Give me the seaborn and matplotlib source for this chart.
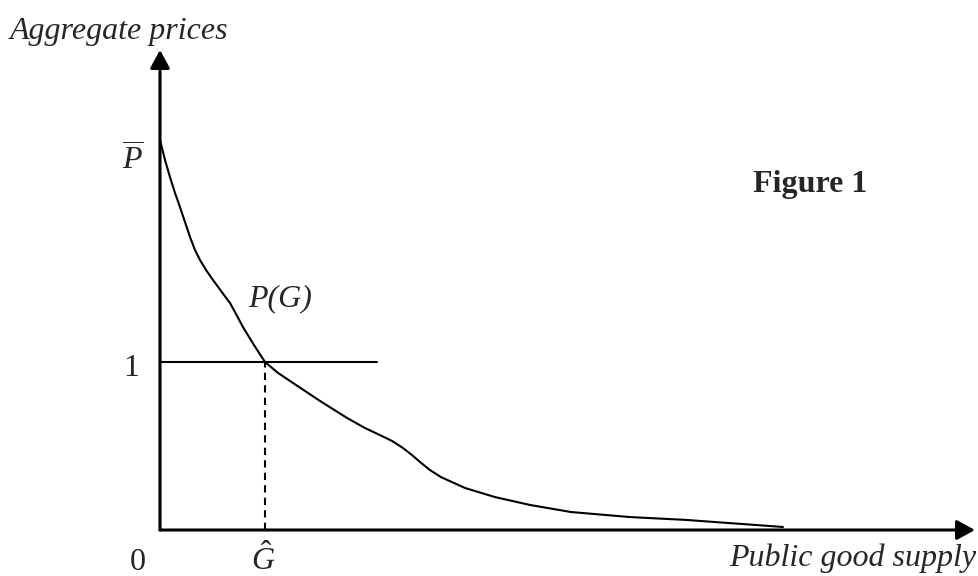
import numpy as np
import pandas as pd
import seaborn as sns
import matplotlib.pyplot as plt

# curve P(G) (G-hat = 1, price level 1 = 1)
G = [0, 0.048, 0.095, 0.143, 0.19, 0.238, 0.286, 0.333, 0.381, 0.438, 0.505,
     0.581, 0.667, 0.724, 0.79, 0.895, 1.0, 1.124, 1.267, 1.524, 1.781, 1.952,
     2.095, 2.21, 2.314, 2.4, 2.476, 2.571, 2.676, 2.905, 3.19, 3.524, 3.914,
     4.476, 5.01, 5.933]
P = [2.321, 2.202, 2.101, 2.006, 1.923, 1.833, 1.744, 1.667, 1.607, 1.548, 1.488,
     1.423, 1.351, 1.286, 1.208, 1.101, 1.0, 0.935, 0.875, 0.768, 0.667, 0.607,
     0.565, 0.53, 0.488, 0.446, 0.405, 0.357, 0.315, 0.25, 0.196, 0.149, 0.107,
     0.077, 0.06, 0.018]
g_hat = 1.0
p_one = 1.0
line_end = 2.067

df = pd.DataFrame({'G': G, 'P': P})

sns.set_style('white')
plt.rcParams['font.family'] = ['Liberation Serif', 'DejaVu Serif']
plt.rcParams['mathtext.fontset'] = 'custom'
plt.rcParams['mathtext.it'] = 'Liberation Serif:italic'
plt.rcParams['mathtext.rm'] = 'Liberation Serif'

fig = plt.figure(figsize=(9.79, 5.76), dpi=100)
ax = fig.add_axes([0, 0, 1, 1])
ax.set_xlim(-160 / 105, 819 / 105)
ax.set_ylim(-46 / 168, 530 / 168)
ax.axis('off')

sns.lineplot(data=df, x='G', y='P', color='black', linewidth=1.5, ax=ax,
             sort=False, estimator=None, solid_joinstyle='round')
# price = 1 line and the dashed drop to G-hat
sns.lineplot(x=[0, line_end], y=[p_one, p_one], color='black', linewidth=1.5, ax=ax)
ax.plot([g_hat, g_hat], [0, p_one], color='black', linewidth=1.5,
        linestyle=(0, (3.5, 2.5)))

# axes with arrows
arrow = dict(arrowstyle='-|>,head_length=0.55,head_width=0.3', lw=2.2,
             color='black', shrinkA=0, shrinkB=0, mutation_scale=20)
ax.annotate('', xy=(815 / 105, 0), xytext=(0, 0), arrowprops=arrow)
ax.annotate('', xy=(0, 480 / 168), xytext=(0, 0), arrowprops=arrow)

fs = 23
ax.text(-1.43, 2.92, 'Aggregate prices', fontsize=fs, style='italic',
        ha='left', va='baseline')
ax.text(7.77, -0.215, 'Public good supply', fontsize=fs, style='italic',
        ha='right', va='baseline')
ax.text(5.648, 2.014, 'Figure 1', fontsize=fs, fontweight='bold',
        ha='left', va='baseline')
ax.text(0.84, 1.33, 'P(G)', fontsize=fs, style='italic', ha='left', va='baseline')
ax.text(-0.257, 2.145, r'$\overline{P}$', fontsize=fs, ha='center', va='baseline')
ax.text(-0.276, 0.915, '1', fontsize=fs, ha='center', va='baseline')
ax.text(-0.21, -0.238, '0', fontsize=fs, ha='center', va='baseline')
ax.text(0.98, -0.238, r'$\hat{G}$', fontsize=fs, ha='center', va='baseline')

fig.savefig('out.png', dpi=100)
